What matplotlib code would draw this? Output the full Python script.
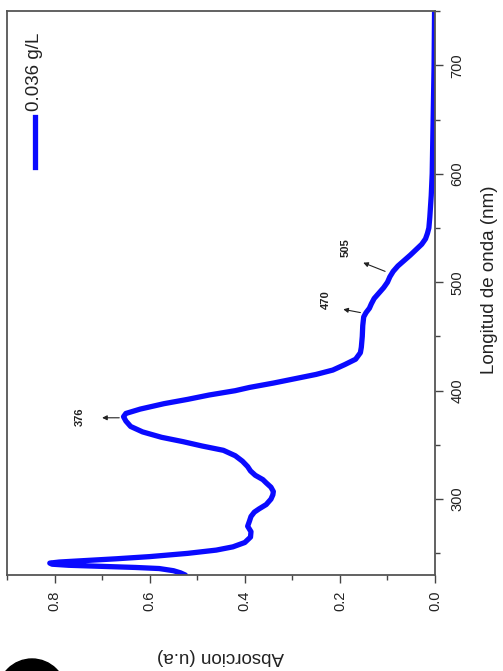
import matplotlib
matplotlib.use("Agg")
import matplotlib.pyplot as plt
from matplotlib.ticker import MultipleLocator
from matplotlib.patches import Circle

plt.rcParams['font.family'] = ['Liberation Sans', 'DejaVu Sans']

# Data read from the (rotated) picture: wavelength (nm) -> absorbance (u.a)
wavelength = [230, 232, 234, 236, 237, 238, 239, 240, 241, 242, 243, 245, 247, 250,
              253, 256, 260, 265, 270, 275, 280, 284, 288, 291, 295, 300, 304, 307,
              311, 315, 318, 322, 326, 330, 335, 340, 345, 349, 353, 357, 362, 367,
              372, 376, 379, 383, 388, 392, 396, 400, 403, 407, 411, 415, 419, 424,
              429, 435, 440, 450, 460, 468, 472, 476, 480, 485, 490, 495, 500, 505,
              510, 515, 520, 525, 530, 535, 540, 545, 550, 560, 580, 600, 650, 700, 750]
absorbance = [0.525, 0.535, 0.55, 0.58, 0.63, 0.70, 0.77, 0.805, 0.81, 0.79, 0.75, 0.67, 0.60, 0.52,
              0.46, 0.425, 0.40, 0.388, 0.387, 0.394, 0.39, 0.387, 0.38, 0.37, 0.355, 0.345, 0.341, 0.340,
              0.345, 0.355, 0.362, 0.378, 0.388, 0.394, 0.405, 0.42, 0.445, 0.49, 0.53, 0.575, 0.615, 0.64,
              0.65, 0.655, 0.65, 0.62, 0.57, 0.52, 0.475, 0.42, 0.39, 0.34, 0.295, 0.25, 0.215, 0.19,
              0.167, 0.157, 0.155, 0.153, 0.152, 0.15, 0.145, 0.138, 0.134, 0.128, 0.118, 0.108, 0.10, 0.095,
              0.088, 0.078, 0.065, 0.052, 0.04, 0.028, 0.02, 0.016, 0.013, 0.011, 0.008, 0.006, 0.004, 0.002, 0.001]

series_label = "0.036 g/L"
peak_labels = ["376", "470", "505"]
# (text wl, text abs), (arrow tip wl, abs), (arrow tail wl, abs)
peak_text = [(376, 0.748), (484, 0.23), (532, 0.188)]
peak_tip = [(375, 0.70), (475, 0.193), (518, 0.151)]
peak_tail = [(375, 0.664), (472, 0.157), (510, 0.105)]

abs_ticks = [0.0, 0.2, 0.4, 0.6, 0.8]
wl_ticks = [300, 400, 500, 600, 700]

fig = plt.figure(figsize=(5.03, 6.71), dpi=100)
ax = fig.add_axes([0.0139, 0.143, 0.851, 0.8405])

blue = '#0a0aff'
# rotated chart: absorbance runs right-to-left, wavelength runs upward
ax.plot(absorbance, wavelength, color=blue, lw=3.8, solid_capstyle='round')

ax.set_xlim(0.9, 0.0)
ax.set_ylim(230, 750)

ax.set_xticks(abs_ticks)
ax.set_xticklabels([f"{v:.1f}" for v in abs_ticks], rotation=90)
ax.xaxis.set_minor_locator(MultipleLocator(0.1))
ax.set_yticks(wl_ticks)
ax.set_yticklabels([str(v) for v in wl_ticks], rotation=90, va='center')
ax.yaxis.set_minor_locator(MultipleLocator(50))

ax.yaxis.tick_right()
ax.tick_params(axis='both', which='major', direction='out', length=6, width=1.0,
               color='#444444', labelsize=10.5, labelcolor='#222222', pad=5)
ax.tick_params(axis='both', which='minor', direction='out', length=3.5, width=1.0, color='#444444')
ax.tick_params(axis='y', which='both', left=False, right=True)
ax.tick_params(axis='x', which='both', top=False, bottom=True)

for s in ax.spines.values():
    s.set_color('#555555')
    s.set_linewidth(1.3)

ax.set_xlabel("Absorcion (u.a)", fontsize=13.5, rotation=180, color='#222222',
              ha='center', va='center')
ax.xaxis.set_label_coords(0.498, -0.145)
ax.yaxis.set_label_position('right')
ax.set_ylabel("Longitud de onda (nm)", fontsize=13.5, rotation=90, color='#222222',
              ha='center', va='center')
ax.yaxis.set_label_coords(1.128, 0.523)

# legend (rotated)
ax.plot([0.065, 0.065], [0.723, 0.812], transform=ax.transAxes, color=blue, lw=3.8)
ax.text(0.065, 0.822, series_label, transform=ax.transAxes, rotation=90,
        ha='center', va='bottom', fontsize=13.5, color='#222222')

# peak annotations
for lab, (tw, ta), (hw, ha_), (lw_, la) in zip(peak_labels, peak_text, peak_tip, peak_tail):
    ax.annotate("", xy=(ha_, hw), xytext=(la, lw_),
                arrowprops=dict(arrowstyle='-|>', color='#222222', lw=0.8,
                                mutation_scale=7, shrinkA=0, shrinkB=0))
    ax.text(ta, tw, lab, rotation=90, ha='center', va='center', fontsize=8,
            fontweight='bold', color='#222222')

# partial black circle marker at the bottom-left corner
fig.patches.append(Circle((32, -22), 34, transform=None, color='black'))

fig.savefig("out.png", dpi=100)
